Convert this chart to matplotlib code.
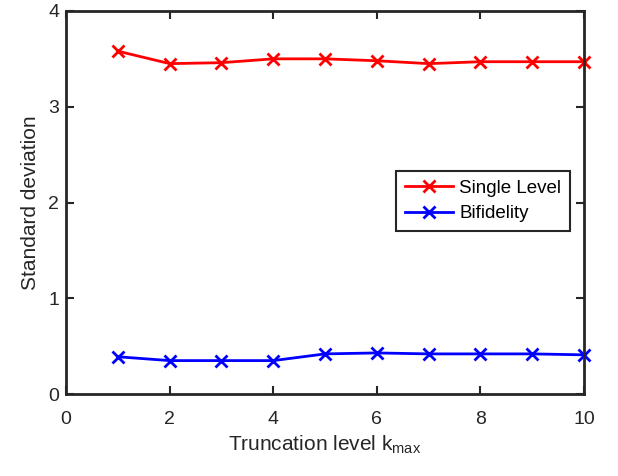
import matplotlib
matplotlib.use("Agg")
import matplotlib.pyplot as plt

plt.rcParams['font.family'] = ['Liberation Sans', 'DejaVu Sans']

# truncation levels and std values
k_max = [1, 2, 3, 4, 5, 6, 7, 8, 9, 10]
single_level = [3.58, 3.45, 3.46, 3.50, 3.50, 3.48, 3.45, 3.47, 3.47, 3.47]
bifidelity = [0.39, 0.35, 0.35, 0.35, 0.42, 0.43, 0.42, 0.42, 0.42, 0.41]

fig = plt.figure(figsize=(6.18, 4.76), dpi=100)
ax = fig.add_axes([0.107, 0.172, 0.838, 0.805])

ax.plot(k_max, single_level, color='red', marker='x', lw=2, ms=9, mew=2,
        label='Single Level', clip_on=False)
ax.plot(k_max, bifidelity, color='blue', marker='x', lw=2, ms=9, mew=2,
        label='Bifidelity', clip_on=False)

ax.set_xlim(0, 10)
ax.set_ylim(0, 4)
ax.set_xticks(range(0, 11, 2))
ax.set_yticks(range(0, 5))

for s in ax.spines.values():
    s.set_linewidth(2)
    s.set_color('#262626')
ax.tick_params(direction='in', length=6, width=1.5, colors='#262626',
               labelsize=14, top=True, right=True, labelcolor='#262626')
ax.tick_params(axis='x', pad=12)
ax.tick_params(axis='y', pad=5)

ax.set_xlabel('Truncation level k$_{\\mathregular{max}}$', fontsize=15,
              color='#262626', labelpad=4)
ax.set_ylabel('Standard deviation', fontsize=15, color='#262626', labelpad=6)

leg = ax.legend(loc='center right', bbox_to_anchor=(0.972, 0.504), fontsize=13.5,
                fancybox=False, framealpha=1, edgecolor='#262626',
                handlelength=2.6, borderpad=0.45, labelspacing=0.45,
                handletextpad=0.3, borderaxespad=0)
leg.get_frame().set_linewidth(1.5)

fig.savefig('out.png', dpi=100)
